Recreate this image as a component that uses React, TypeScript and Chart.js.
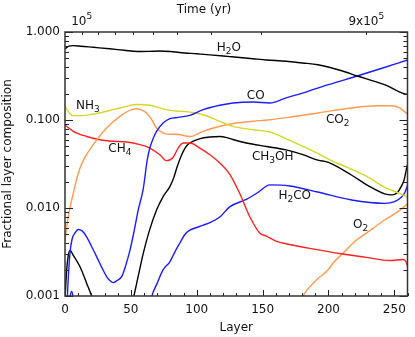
import { useEffect, useRef } from 'react';
import { Chart, registerables } from 'chart.js';

Chart.register(...registerables);

const FONT = "'DejaVu Sans', sans-serif";

// [layer, fractional composition]
const H2O: [number, number][] = [
  [0, 0.645], [3, 0.69], [6, 0.70], [12, 0.69], [21.5, 0.67], [34, 0.645], [45, 0.62], [55, 0.60],
  [64, 0.603], [72, 0.608], [80, 0.60], [87, 0.585], [100, 0.565], [110, 0.55], [125, 0.525],
  [142.6, 0.497], [153, 0.481], [168, 0.465], [180, 0.445], [192, 0.425], [210, 0.363],
  [222.4, 0.314], [235, 0.275], [242.6, 0.252], [257.2, 0.199], [260, 0.196],
];
const CO: [number, number][] = [
  [0, 0.0002], [1.8, 0.001], [3.8, 0.0031], [5.5, 0.0045], [7.6, 0.0052], [10.1, 0.0057], [13, 0.0055],
  [16.4, 0.0047], [20, 0.0037], [24, 0.0028], [28, 0.0021], [31.6, 0.00166], [34, 0.0015], [36.6, 0.00142],
  [39.5, 0.0015], [43, 0.00166], [46, 0.0022], [49.3, 0.0033], [52.5, 0.0055], [55.6, 0.0095],
  [59.4, 0.0165], [62.4, 0.035], [64.4, 0.048], [67, 0.062], [69.5, 0.0744], [74.5, 0.0924],
  [79.6, 0.1035], [85.9, 0.107], [94.8, 0.113], [104.9, 0.131], [117.5, 0.147], [127.6, 0.156],
  [142.8, 0.160], [155.4, 0.156], [166.8, 0.176], [185, 0.213], [200, 0.252], [222.4, 0.318],
  [240, 0.385], [260, 0.481],
];
const NH3: [number, number][] = [
  [0, 0.142], [3, 0.122], [6, 0.112], [12, 0.112], [21.7, 0.117], [36.6, 0.131], [46, 0.142],
  [54.3, 0.150], [64.4, 0.147], [77, 0.131], [86, 0.1256], [92.3, 0.1245], [104.9, 0.1148],
  [117.5, 0.0967], [127.4, 0.0848], [142.8, 0.0776], [155.4, 0.073], [166.8, 0.0624], [180, 0.0507],
  [192, 0.0417], [203, 0.034], [212, 0.030], [228.7, 0.023], [242.6, 0.0172], [254, 0.0147], [260, 0.0133],
];
const CO2: [number, number][] = [
  [0, 0.0043], [2.5, 0.008], [6.3, 0.0147], [10.1, 0.0248], [14, 0.035], [21.5, 0.0524], [31.6, 0.081],
  [41.7, 0.110], [50.5, 0.131], [54.3, 0.134], [58, 0.130], [61.9, 0.120], [66, 0.100], [69.5, 0.081],
  [74.5, 0.0711], [80, 0.069], [85.9, 0.0685], [94.8, 0.0649], [104.9, 0.0744], [117.5, 0.0848],
  [130.2, 0.0924], [142.8, 0.0967], [155.4, 0.1007], [169.3, 0.107], [192, 0.120], [217.3, 0.137],
  [237.5, 0.145], [247.6, 0.145], [254, 0.137], [260, 0.117],
];
const CH4: [number, number][] = [
  [0, 0.0878], [6.3, 0.0744], [16.4, 0.065], [26.5, 0.0597], [36.6, 0.0573], [46.8, 0.0562],
  [56.9, 0.0524], [64.4, 0.048], [72, 0.0403], [77, 0.0345], [82, 0.0375], [85.9, 0.048], [89.7, 0.0548],
  [94.8, 0.0548], [102.4, 0.048], [110, 0.0403], [117.5, 0.0325], [125, 0.0243], [132.6, 0.0147],
  [140.2, 0.0080], [147.8, 0.0052], [152.9, 0.0048], [160, 0.0042], [170.6, 0.00385], [185.7, 0.00348],
  [210.9, 0.0030], [228.7, 0.00275], [246.4, 0.00253], [256.5, 0.0026], [258.5, 0.0025], [260, 0.0022],
];
const CH3OH: [number, number][] = [
  [0, 0.0009], [1.3, 0.002], [2.5, 0.0029], [3.8, 0.0033], [6.3, 0.0029], [11.4, 0.00215], [16.4, 0.0014],
  [20.2, 0.001], [25, 0.0006], [35, 0.0003], [45, 0.0004], [52.3, 0.001], [56, 0.0018], [59.4, 0.00305],
  [64, 0.0055], [69.5, 0.0095], [74.5, 0.0135], [79.6, 0.0175], [82.5, 0.022], [85, 0.029], [88.5, 0.04],
  [92.4, 0.051], [97, 0.057], [102, 0.061], [110, 0.064], [117.5, 0.065], [123, 0.063], [127.4, 0.060],
  [137.7, 0.0548], [153, 0.050], [167, 0.046], [180, 0.0407], [192, 0.035], [200, 0.033], [217.4, 0.0237],
  [230, 0.018], [242.6, 0.0145], [248, 0.0141], [252, 0.0148], [255.2, 0.0175], [257.5, 0.021],
  [259, 0.027], [260, 0.031],
];
const H2CO: [number, number][] = [
  [0, 0.0002], [2.5, 0.0006], [4, 0.001], [5, 0.00113], [6, 0.001], [7.5, 0.0006], [10, 0.0002],
  [30, 0.00005], [55, 0.0001], [62, 0.0005], [66, 0.001], [70, 0.0014], [74.3, 0.00197], [79.6, 0.00245],
  [84, 0.0033], [87.2, 0.004], [91, 0.005], [94.8, 0.0056], [100, 0.006], [104.9, 0.0064], [110, 0.0068],
  [117.5, 0.0079], [125, 0.0103], [138, 0.0126], [147, 0.0152], [155.4, 0.0183], [170.6, 0.0178],
  [191.8, 0.0152], [217.6, 0.01233], [242.6, 0.0113], [250.2, 0.0118], [255.5, 0.0133], [258, 0.015],
  [260, 0.018],
];
const O2: [number, number][] = [
  [170, 0.0004], [180.7, 0.001], [190.8, 0.00152], [199.6, 0.00197], [203.4, 0.00236], [211, 0.00306],
  [221.2, 0.00433], [225, 0.00472], [233.8, 0.00587], [242.6, 0.0073], [252.7, 0.00908], [260, 0.0111],
];

// top axis: layers where time = 1..9 x 10^5 yr
const TIME_TICK_LAYERS = [12.7, 25.3, 37.9, 51.3, 66.5, 84.7, 111.2, 149.1, 228.7];

const SERIES = [
  { data: H2O, color: '#000000' },
  { data: CO, color: '#1c1cff' },
  { data: NH3, color: '#d6d62a' },
  { data: CO2, color: '#ff9a52' },
  { data: CH4, color: '#ff2222' },
  { data: CH3OH, color: '#000000' },
  { data: H2CO, color: '#1c1cff' },
  { data: O2, color: '#ff9a52' },
];

// label parts: [text, 0 normal / 1 subscript / 2 superscript], anchor [layer, value]
type Part = [string, number];
const SERIES_LABELS: { parts: Part[]; at: [number, number] }[] = [
  { parts: [['H', 0], ['2', 1], ['O', 0]], at: [124.3, 0.658] },
  { parts: [['CO', 0]], at: [144.8, 0.187] },
  { parts: [['NH', 0], ['3', 1]], at: [17.4, 0.144] },
  { parts: [['CO', 0], ['2', 1]], at: [207, 0.1] },
  { parts: [['CH', 0], ['4', 1]], at: [41.7, 0.0468] },
  { parts: [['CH', 0], ['3', 1], ['OH', 0]], at: [157.7, 0.038] },
  { parts: [['H', 0], ['2', 1], ['CO', 0]], at: [174.4, 0.0137] },
  { parts: [['O', 0], ['2', 1]], at: [224.4, 0.0064] },
];

const TOP_LABELS: { parts: Part[]; layer: number }[] = [
  { parts: [['10', 0], ['5', 2]], layer: TIME_TICK_LAYERS[0] },
  { parts: [['9x10', 0], ['5', 2]], layer: TIME_TICK_LAYERS[8] },
];

function drawRich(ctx: CanvasRenderingContext2D, parts: Part[], cx: number, cy: number) {
  const big = `12px ${FONT}`;
  const small = `9px ${FONT}`;
  let w = 0;
  for (const [t, s] of parts) {
    ctx.font = s ? small : big;
    w += ctx.measureText(t).width;
  }
  let x = cx - w / 2;
  ctx.textBaseline = 'middle';
  ctx.textAlign = 'left';
  for (const [t, s] of parts) {
    ctx.font = s ? small : big;
    const dy = s === 1 ? 4 : s === 2 ? -5 : 0;
    ctx.fillText(t, x, cy + dy);
    x += ctx.measureText(t).width;
  }
}

const decorPlugin = {
  id: 'decor',
  afterDatasetsDraw(chart: any) {
    const { ctx, chartArea: a, scales } = chart;
    const xs = scales.x;
    const ys = scales.y;
    ctx.save();
    // ticks
    ctx.strokeStyle = '#222';
    ctx.lineWidth = 1;
    ctx.beginPath();
    for (let e = -3; e <= 0; e++) {
      for (let k = 1; k <= 9; k++) {
        const v = k * Math.pow(10, e);
        if (v > 1.00001) break;
        const py = Math.round(ys.getPixelForValue(v)) + 0.5;
        const len = k === 1 ? 8 : 4;
        ctx.moveTo(a.left, py); ctx.lineTo(a.left + len, py);
        ctx.moveTo(a.right, py); ctx.lineTo(a.right - len, py);
      }
    }
    for (let v = 0; v <= 260; v += 10) {
      const px = Math.round(xs.getPixelForValue(v)) + 0.5;
      const len = v % 50 === 0 ? 6 : 3;
      ctx.moveTo(px, a.bottom); ctx.lineTo(px, a.bottom - len);
    }
    for (const l of TIME_TICK_LAYERS) {
      const px = Math.round(xs.getPixelForValue(l)) + 0.5;
      ctx.moveTo(px, a.top); ctx.lineTo(px, a.top + 3);
    }
    ctx.stroke();
    // frame
    ctx.strokeStyle = '#333';
    ctx.lineWidth = 1.5;
    ctx.strokeRect(a.left, a.top, a.right - a.left, a.bottom - a.top);
    // series labels
    ctx.fillStyle = '#111';
    for (const lab of SERIES_LABELS) {
      drawRich(ctx, lab.parts, xs.getPixelForValue(lab.at[0]), ys.getPixelForValue(lab.at[1]));
    }
    // top axis
    for (const t of TOP_LABELS) {
      drawRich(ctx, t.parts, xs.getPixelForValue(t.layer), 22);
    }
    ctx.font = `12px ${FONT}`;
    ctx.textAlign = 'center';
    ctx.textBaseline = 'middle';
    ctx.fillText('Time (yr)', 204, 9.5);
    ctx.restore();
  },
};

export default function App() {
  const ref = useRef<HTMLCanvasElement>(null);
  useEffect(() => {
    const canvas = ref.current;
    if (!canvas) return;
    const chart = new Chart(canvas, {
      type: 'line',
      data: {
        datasets: SERIES.map((s) => ({
          data: s.data.map(([x, y]) => ({ x, y })),
          borderColor: s.color,
          backgroundColor: s.color,
          borderWidth: 1.4,
          pointRadius: 0,
          fill: false,
          cubicInterpolationMode: 'monotone' as const,
        })),
      },
      options: {
        animation: false,
        responsive: false,
        devicePixelRatio: 1,
        layout: { padding: { top: 32, right: 7.5, left: 0, bottom: 0 } },
        plugins: { legend: { display: false }, tooltip: { enabled: false } },
        scales: {
          x: {
            type: 'linear',
            min: 0,
            max: 260,
            grid: { display: false, drawTicks: false },
            border: { display: false },
            ticks: {
              stepSize: 50,
              includeBounds: false,
              padding: 7,
              maxRotation: 0,
              color: '#111',
              font: { family: FONT, size: 12 },
              callback: (v: any) => (Number(v) % 50 === 0 ? String(v) : ''),
            },
            title: {
              display: true,
              text: 'Layer',
              color: '#111',
              font: { family: FONT, size: 12 },
              padding: { top: 0, bottom: 2 },
            },
            afterFit: (s: any) => { s.height = 41; },
          },
          y: {
            type: 'logarithmic',
            min: 0.001,
            max: 1,
            grid: { display: false, drawTicks: false },
            border: { display: false },
            ticks: {
              autoSkip: false,
              padding: 5,
              color: '#111',
              font: { family: FONT, size: 12 },
              callback: (v: any) => {
                const l = Math.log10(Number(v));
                return Math.abs(l - Math.round(l)) < 1e-6 ? Number(v).toFixed(3) : '';
              },
            },
            title: {
              display: true,
              text: 'Fractional layer composition',
              color: '#111',
              font: { family: FONT, size: 12 },
              padding: { top: 1, bottom: 0 },
            },
            afterFit: (s: any) => { s.width = 65; },
          },
        },
      },
      plugins: [decorPlugin],
    } as any);
    return () => chart.destroy();
  }, []);
  return (
    <div style={{ position: 'absolute', left: 0, top: 0, width: 415, height: 337, background: '#fff' }}>
      <canvas ref={ref} width={415} height={337} style={{ width: 415, height: 337, display: 'block' }} />
    </div>
  );
}
